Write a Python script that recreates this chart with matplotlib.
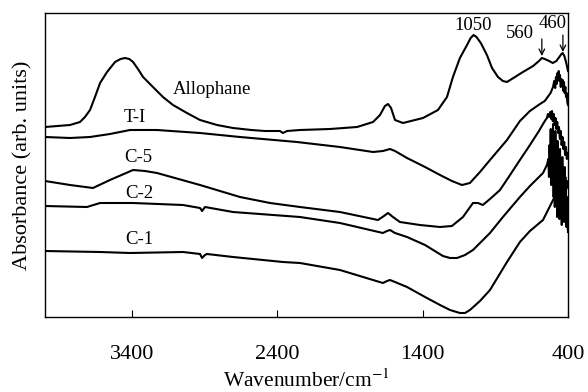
import matplotlib
matplotlib.use("Agg")
import matplotlib.pyplot as plt

plt.rcParams['font.family'] = ['Liberation Serif', 'DejaVu Serif']
plt.rcParams['mathtext.fontset'] = 'stix'

# ---- data (wavenumber / cm-1, absorbance in arbitrary offset units) ----
allophane_wn = [4000, 3828, 3759, 3725, 3690, 3656, 3621, 3573, 3518, 3480, 3449, 3420, 3394, 3360,
                3325, 3257, 3188, 3119, 3023, 2933, 2816, 2706, 2580, 2486, 2383, 2362, 2334, 2245,
                2038, 1852, 1742, 1694, 1660, 1639, 1618, 1591, 1536, 1398, 1295, 1233, 1192, 1144,
                1095, 1070, 1050, 1030, 1000, 958, 923, 882, 848, 820, 765, 710, 640, 600, 580,
                560, 530, 505, 480, 460, 445, 437, 425, 412, 400]
allophane_abs = [190, 192, 195, 200, 207, 220, 234, 245, 255, 258, 259, 258, 255, 248,
                 240, 230, 220, 212, 204, 197, 192, 189, 187, 186, 186, 184, 186, 187,
                 188, 190, 195, 202, 211, 213, 209, 197, 194, 199, 207, 220, 240, 259,
                 272, 279, 282, 280, 274, 262, 249, 240, 236, 235, 240, 245, 251, 256, 259,
                 258, 256, 254, 256, 260, 263, 264, 261, 254, 246]

ti_wn = [4000, 3828, 3690, 3553, 3415, 3229, 2933, 2658, 2266, 1970, 1742, 1674, 1625, 1591,
         1508, 1384, 1281, 1199, 1130, 1075, 1006, 937, 820, 731, 662, 593, 560, 545, 520,
         503, 495, 488, 483, 478, 472, 469, 464, 460, 455, 450, 446, 441, 436, 432, 428,
         423, 418, 414, 409, 404, 400]
ti_abs = [180, 179, 180, 183, 187, 187, 184, 180, 175, 170, 165, 166, 168, 166,
          159, 150, 142, 136, 132, 134, 145, 157, 177, 196, 206, 213, 216, 219, 224,
          230, 236, 229, 240, 233, 244, 238, 246, 236, 242, 230, 238, 231, 237, 226, 235,
          224, 230, 220, 224, 214, 212]

c5_wn = [4000, 3828, 3670, 3553, 3394, 3312, 3229, 2933, 2658, 2451, 2245, 1970, 1708, 1667,
         1639, 1605, 1557, 1419, 1281, 1199, 1123, 1054, 1020, 986, 937, 868, 799, 731, 662,
         600, 572, 555, 545, 538, 530, 522, 515, 510, 505, 498, 492, 486, 480, 474, 468,
         462, 456, 450, 444, 438, 432, 426, 420, 414, 408, 403, 400]
c5_abs = [136, 132, 129, 137, 147, 146, 144, 132, 120, 114, 110, 105, 97, 101,
          104, 100, 95, 92, 90, 91, 100, 114, 114, 112, 118, 127, 142, 157, 172,
          186, 193, 197, 199, 203, 200, 205, 198, 206, 196, 203, 192, 199, 188, 195, 184,
          190, 178, 186, 172, 180, 168, 175, 162, 170, 158, 164, 160]

c2_wn = [4000, 3711, 3621, 3394, 3050, 2933, 2919, 2899, 2706, 2245, 1970, 1674, 1646, 1625,
         1591, 1508, 1384, 1261, 1212, 1164, 1109, 1054, 937, 848, 731, 662, 572, 545,
         535, 531, 527, 523, 519, 515, 511, 507, 503, 499, 495, 491, 487, 483, 479, 475,
         471, 467, 463, 459, 455, 451, 447, 443, 439, 435, 431, 427, 423, 419, 415, 411,
         407, 403, 400]
c2_abs = [111, 110, 114, 114, 112, 109, 106, 110, 105, 100, 94, 84, 86, 87,
          84, 80, 72, 61, 59, 59, 62, 67, 84, 100, 120, 131, 144, 152,
          158, 140, 172, 150, 188, 132, 180, 145, 193, 120, 178, 110, 186, 125, 170, 100,
          176, 115, 162, 98, 168, 105, 152, 92, 160, 100, 142, 95, 150, 96, 132, 90,
          120, 92, 85]

c1_wn = [4000, 3621, 3415, 3050, 2933, 2919, 2899, 2885, 2706, 2362, 2245, 1970, 1674, 1646,
         1625, 1591, 1508, 1384, 1281, 1212, 1144, 1109, 1075, 1006, 937, 820, 731, 662,
         572, 503, 476, 462, 452, 445, 438, 430, 424, 418, 412, 406, 400]
c1_abs = [66, 65, 64, 65, 63, 59, 62, 63, 60, 55, 54, 47, 34, 36,
          37, 35, 30, 20, 12, 7, 4, 4, 7, 16, 27, 55, 75, 86,
          97, 117, 125, 132, 128, 138, 130, 142, 133, 140, 128, 136, 130]

series = [
    (allophane_wn, allophane_abs),
    (ti_wn, ti_abs),
    (c5_wn, c5_abs),
    (c2_wn, c2_abs),
    (c1_wn, c1_abs),
]

curve_labels = ['Allophane', 'T-I', 'C-5', 'C-2', 'C-1']
curve_label_wn = [2850, 3380, 3360, 3350, 3350]
curve_label_abs = [227, 200, 160, 124, 77]

peak_labels = ['1050', '560', '460']
peak_label_wn = [1050, 730, 503]
peak_label_abs = [292, 284, 294]
arrow_wn = [None, 580, 435]
arrow_top = [None, 278, 282]
arrow_tip = [None, 261, 265]

xticks = [3400, 2400, 1400, 400]

# ---- figure ----
fig = plt.figure(figsize=(5.88, 3.92), dpi=100)
ax = fig.add_axes([45/588, 1 - 317/392, (568-45)/588, (317-13)/392])

for wn, ab in series:
    ax.plot(wn, ab, color='black', lw=1.5, solid_joinstyle='round')

ax.set_xlim(4000, 400)
ax.set_ylim(0, 304)

for lab, xw, ya in zip(curve_labels, curve_label_wn, curve_label_abs):
    ax.text(xw, ya, lab, fontsize=13.5, ha='center', va='center')

for lab, xw, ya, aw, at, ap in zip(peak_labels, peak_label_wn, peak_label_abs,
                                    arrow_wn, arrow_top, arrow_tip):
    ax.text(xw, ya, lab, fontsize=13.5, ha='center', va='center')
    if aw is not None:
        ax.annotate('', xy=(aw, ap), xytext=(aw, at),
                    arrowprops=dict(arrowstyle='->', color='black', lw=0.9,
                                    shrinkA=0, shrinkB=0))

ax.set_xticks(xticks)
ax.set_xticklabels([str(t) for t in xticks])
ax.tick_params(axis='x', direction='in', length=5, width=0.8, labelsize=16, pad=20,
               top=False)
ax.tick_params(axis='y', left=False, right=False, labelleft=False)
for sp in ax.spines.values():
    sp.set_linewidth(1.0)

ax.set_xlabel('Wavenumber/cm$^{-1}$', fontsize=15.5, labelpad=4)
ax.set_ylabel('Absorbance (arb. units)', fontsize=16, labelpad=9)

fig.savefig('out.png', dpi=100)
